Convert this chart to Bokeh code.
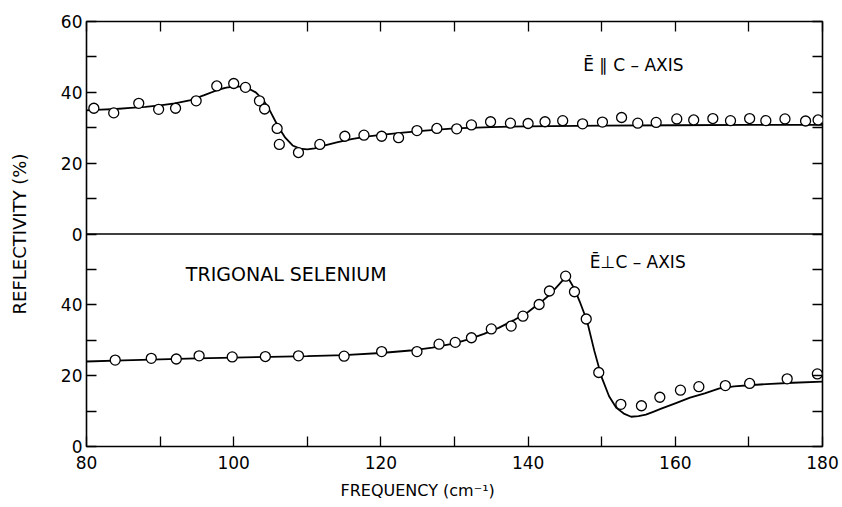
from bokeh.plotting import figure
from bokeh.models import Range1d, LinearAxis, FixedTicker, Span, Label, Title
from bokeh.embed import file_html
from bokeh.resources import INLINE

# ---------------- data ----------------
# E parallel to c-axis (upper panel) : measured points
par_x = [81.0, 83.7, 87.1, 89.8, 92.1, 94.9, 97.7, 100.0, 101.6, 103.5, 104.2, 105.9,
         106.2, 108.8, 111.7, 115.1, 117.7, 120.1, 122.4, 124.9, 127.6, 130.3, 132.3,
         134.9, 137.6, 140.0, 142.3, 144.7, 147.4, 150.1, 152.7, 154.9, 157.4, 160.2,
         162.5, 165.1, 167.5, 170.1, 172.3, 174.9, 177.7, 179.4]
par_y = [35.5, 34.2, 36.9, 35.2, 35.5, 37.6, 41.8, 42.5, 41.4, 37.6, 35.3, 29.8,
         25.3, 23.0, 25.3, 27.6, 27.9, 27.6, 27.2, 29.2, 29.8, 29.7, 30.8,
         31.7, 31.3, 31.2, 31.7, 32.0, 31.1, 31.6, 32.9, 31.3, 31.5, 32.5,
         32.2, 32.6, 32.0, 32.6, 32.0, 32.5, 31.9, 32.2]
# E parallel to c-axis : fitted curve
par_fit_x = [80, 82, 84, 86, 88, 90, 92, 94, 96, 98, 99, 100, 101, 102, 103, 104, 105,
             106, 107, 108, 109, 110, 111, 112, 114, 116, 118, 120, 123, 126, 130, 135,
             140, 150, 160, 170, 180]
par_fit_y = [34.9, 35.1, 35.3, 35.6, 35.9, 36.3, 36.9, 37.7, 39.2, 40.8, 41.3, 41.6, 41.6,
             41.1, 40.0, 37.9, 34.5, 30.5, 27.2, 25.0, 24.1, 23.9, 24.2, 24.8, 25.9, 26.8,
             27.5, 28.0, 28.6, 29.2, 29.8, 30.2, 30.4, 30.6, 30.7, 30.8, 30.8]

# E perpendicular to c-axis (lower panel) : measured points
perp_x = [83.9, 88.8, 92.2, 95.3, 99.8, 104.3, 108.8, 115.0, 120.1, 124.9, 127.9, 130.1,
          132.3, 135.0, 137.7, 139.3, 141.5, 142.9, 145.1, 146.3, 147.9, 149.6, 152.6,
          155.4, 157.9, 160.7, 163.2, 166.8, 170.1, 175.2, 179.3]
perp_y = [24.4, 24.9, 24.7, 25.6, 25.3, 25.4, 25.6, 25.5, 26.8, 26.8, 28.9, 29.4,
          30.7, 33.2, 34.0, 36.8, 40.1, 43.9, 48.1, 43.7, 36.0, 20.9, 11.9,
          11.5, 13.9, 15.9, 16.9, 17.2, 17.8, 19.1, 20.5]
# E perpendicular to c-axis : fitted curve
perp_fit_x = [80, 85, 90, 95, 100, 105, 110, 115, 120, 124, 127, 130, 132, 134, 136, 138,
              140, 142, 143, 144, 145, 145.6, 146.3, 147, 148, 149, 150, 151, 152, 153,
              154, 155, 156, 157, 158, 160, 162, 164, 166, 168, 170, 173, 176, 180]
perp_fit_y = [24.0, 24.3, 24.6, 24.9, 25.1, 25.3, 25.5, 25.8, 26.4, 27.1, 27.9, 29.1, 30.3,
              31.8, 33.5, 35.6, 38.0, 41.2, 43.0, 45.3, 47.6, 47.0, 44.5, 41.0, 35.5, 27.0,
              19.5, 14.2, 10.9, 9.3, 8.4, 8.6, 9.0, 9.8, 10.6, 12.2, 13.8, 15.0, 16.4,
              17.0, 17.3, 17.7, 18.0, 18.3]

# ticks
x_ticks = [80, 90, 100, 110, 120, 130, 140, 150, 160, 170, 180]
x_tick_labels = ["80", "", "100", "", "120", "", "140", "", "160", "", "180"]
y_ticks = [0, 10, 20, 30, 40, 50, 60, 70, 80, 90, 100, 110, 120]
y_tick_labels = ["0", "", "20", "", "40", "", "0", "", "20", "", "40", "", "60"]

FONT = "DejaVu Sans"

p = figure(width=842, height=507, output_backend="svg", toolbar_location=None,
           x_range=Range1d(80, 180), y_range=Range1d(0, 120),
           x_axis_location=None, y_axis_location=None,
           min_border_left=86, min_border_right=20, min_border_top=21, min_border_bottom=61)
p.extra_y_ranges = {"par": Range1d(-60, 60)}
p.xgrid.visible = False
p.ygrid.visible = False
p.outline_line_color = "black"
p.outline_line_width = 1.6
p.background_fill_color = "white"
p.border_fill_color = "white"


def style(ax):
    ax.major_tick_in = 10
    ax.major_tick_out = 0
    ax.minor_tick_in = 0
    ax.minor_tick_out = 0
    ax.major_tick_line_color = "black"
    ax.major_tick_line_width = 1.3
    ax.axis_line_color = None
    ax.major_label_text_font = FONT
    ax.major_label_text_color = "black"
    ax.major_label_text_font_size = "17px"


xlab = dict(zip(x_ticks, x_tick_labels))
ylab = dict(zip(y_ticks, y_tick_labels))

bottom = LinearAxis(ticker=FixedTicker(ticks=x_ticks), major_label_overrides=xlab)
style(bottom)
bottom.major_label_standoff = 9
p.add_layout(bottom, "below")

top = LinearAxis(ticker=FixedTicker(ticks=x_ticks),
                 major_label_overrides={t: "" for t in x_ticks})
style(top)
top.major_label_text_font_size = "1px"
top.major_label_standoff = 0
p.add_layout(top, "above")

left = LinearAxis(ticker=FixedTicker(ticks=y_ticks), major_label_overrides=ylab,
                  axis_label="REFLECTIVITY (%)")
style(left)
left.major_label_standoff = 4
left.axis_label_standoff = 28
left.axis_label_text_font = FONT
left.axis_label_text_font_size = "18px"
left.axis_label_text_font_style = "normal"
left.axis_label_text_color = "black"
p.add_layout(left, "left")

right = LinearAxis(ticker=FixedTicker(ticks=y_ticks),
                   major_label_overrides={t: "" for t in y_ticks})
style(right)
right.major_label_text_font_size = "1px"
right.major_label_standoff = 0
p.add_layout(right, "right")

# x-axis title, set left of centre as in the original
p.add_layout(Title(text="FREQUENCY (cm⁻¹)", align="left", offset=254, standoff=14,
                   text_font=FONT, text_font_size="16px", text_font_style="normal",
                   text_color="black"), "below")

# divider between the two panels
p.add_layout(Span(location=0, dimension="width", y_range_name="par",
                  line_color="black", line_width=1.6))

# upper panel: E || c
p.line(par_fit_x, par_fit_y, line_color="black", line_width=1.8, y_range_name="par")
p.scatter(par_x, par_y, marker="circle", size=10, fill_color="white",
          line_color="black", line_width=1.3, y_range_name="par")

# lower panel: E perp c
p.line(perp_fit_x, perp_fit_y, line_color="black", line_width=1.8)
p.scatter(perp_x, perp_y, marker="circle", size=10, fill_color="white",
          line_color="black", line_width=1.3)

# annotations
p.add_layout(Label(x=154.3, y=47.8, y_range_name="par", text="Ē ∥ C – AXIS",
                   text_font=FONT, text_font_size="17px", text_align="center",
                   text_baseline="middle", text_color="black"))
p.add_layout(Label(x=154.9, y=52.1, text="Ē⊥C – AXIS",
                   text_font=FONT, text_font_size="17px", text_align="center",
                   text_baseline="middle", text_color="black"))
p.add_layout(Label(x=93.5, y=48.8, text="TRIGONAL SELENIUM",
                   text_font=FONT, text_font_size="19px", text_align="left",
                   text_baseline="middle", text_color="black"))

open("out.html", "w").write(file_html(p, INLINE))
